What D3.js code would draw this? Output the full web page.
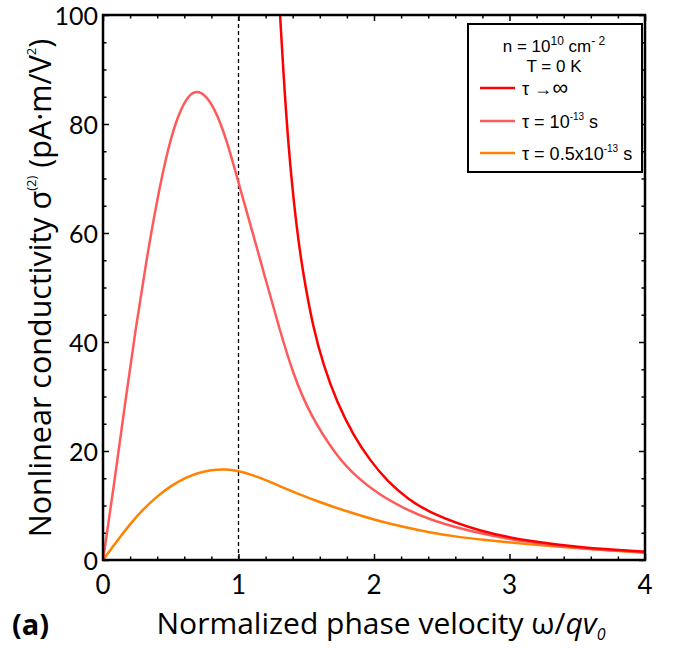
<!DOCTYPE html>
<html>
<head>
<meta charset="utf-8">
<script src="https://cdn.jsdelivr.net/npm/d3@7"></script>
<style>
  body { margin: 0; background: #fff; }
  text { font-family: Lato, "Open Sans", sans-serif; }
  .title { font-family: "Open Sans", Lato, sans-serif; }
  .legend text { font-family: "Liberation Sans", Arial, sans-serif; }
</style>
</head>
<body>
<svg class="chart" width="673" height="648"></svg>
<script>
"use strict";

// tick values
let xMajor = [0, 1, 2, 3, 4];
let yMajor = [0, 20, 40, 60, 80, 100];

// tau -> infinity
let infX = [1.29, 1.306, 1.343, 1.38, 1.429, 1.478, 1.552, 1.626, 1.725, 1.847, 1.97, 2.1, 2.25, 2.413, 2.78, 3.15, 3.52, 4.0];
let infY = [108, 100, 84.7, 72.5, 60.9, 52.3, 42.5, 35.8, 29.0, 22.9, 18.3, 14.4, 11.2, 8.6, 5.2, 3.4, 2.3, 1.5];

// tau = 1e-13 s
let t1X = [0, 0.08, 0.16, 0.24, 0.32, 0.40, 0.48, 0.56, 0.63, 0.69, 0.75, 0.82, 0.91, 1.0, 1.1, 1.2, 1.3, 1.4, 1.528, 1.725, 1.88, 2.044, 2.221, 2.413, 2.78, 3.15, 3.52, 4.0];
let t1Y = [0, 13.5, 28.3, 42.3, 55.0, 66.2, 75.7, 82.1, 85.25, 86.1, 85.45, 83.1, 77.4, 69.2, 60.5, 51.5, 42.6, 34.3, 26.6, 19.0, 15.0, 11.9, 9.5, 7.3, 4.8, 3.2, 2.1, 1.45];

// tau = 0.5e-13 s
let t2X = [0, 0.1, 0.2, 0.3, 0.4, 0.5, 0.6, 0.7, 0.8, 0.9, 1.0, 1.1, 1.2, 1.3, 1.424, 1.6, 1.8, 2.0, 2.2, 2.4, 2.6, 2.8, 3.15, 3.52, 4.0];
let t2Y = [0, 3.4, 6.6, 9.4, 11.7, 13.6, 15.0, 16.0, 16.55, 16.7, 16.35, 15.6, 14.7, 13.6, 12.3, 10.6, 8.9, 7.4, 6.15, 5.1, 4.3, 3.7, 2.85, 2.1, 1.35];

let seriesColors = ['#ff0000', '#ff5a5a', '#ff8200'];

let svg = d3.select('.chart');

let m = { left: 103, right: 645, top: 15, bottom: 560 };

let x = d3.scaleLinear().domain([0, 4]).range([m.left, m.right]);
let y = d3.scaleLinear().domain([0, 100]).range([m.bottom, m.top]);

let xMinor = d3.range(0, 4.001, 0.2).filter(v => Math.abs(v - Math.round(v)) > 1e-6);
let yMinor = d3.range(0, 100.001, 5).filter(v => v % 20 !== 0);

// inward ticks on all four sides
let addTicks = (axisFn, scale, vals, size, tx, ty) => {
  let g = svg.append('g')
    .attr('transform', 'translate(' + tx + ',' + ty + ')')
    .call(axisFn(scale).tickValues(vals).tickSize(size).tickFormat(''));
  g.select('.domain').remove();
  g.selectAll('line').attr('stroke', '#000').attr('stroke-width', 1.5);
  return g;
};

addTicks(d3.axisBottom, x, xMajor, -6, 0, m.bottom);
addTicks(d3.axisBottom, x, xMinor, -3.5, 0, m.bottom);
addTicks(d3.axisTop, x, xMajor, -6, 0, m.top);
addTicks(d3.axisTop, x, xMinor, -3.5, 0, m.top);
addTicks(d3.axisLeft, y, yMajor, -6, m.left, 0);
addTicks(d3.axisLeft, y, yMinor, -3.5, m.left, 0);
addTicks(d3.axisRight, y, yMajor, -6, m.right, 0);
addTicks(d3.axisRight, y, yMinor, -3.5, m.right, 0);

// tick labels
svg.append('g').selectAll('text')
  .data(xMajor)
  .enter()
  .append('text')
  .attr('x', d => x(d))
  .attr('y', 594)
  .attr('text-anchor', 'middle')
  .attr('font-size', 26)
  .text(d => d);

svg.append('g').selectAll('text')
  .data(yMajor)
  .enter()
  .append('text')
  .attr('x', m.left - 5)
  .attr('y', d => y(d) + 10)
  .attr('text-anchor', 'end')
  .attr('font-size', 25)
  .text(d => d);

// dashed line at omega = q v0
svg.append('line')
  .attr('x1', x(1)).attr('x2', x(1))
  .attr('y1', y(0)).attr('y2', y(100))
  .attr('stroke', '#000')
  .attr('stroke-width', 1.3)
  .attr('stroke-dasharray', '4,3');

svg.append('clipPath')
  .attr('id', 'plotclip')
  .append('rect')
  .attr('x', m.left).attr('y', m.top)
  .attr('width', m.right - m.left).attr('height', m.bottom - m.top);

let line = d3.line()
  .x(d => x(d[0]))
  .y(d => y(d[1]))
  .curve(d3.curveBasis);

let series = [d3.zip(infX, infY), d3.zip(t1X, t1Y), d3.zip(t2X, t2Y)];

svg.append('g')
  .attr('clip-path', 'url(#plotclip)')
  .selectAll('path')
  .data(series.slice().reverse())
  .enter()
  .append('path')
  .attr('d', line)
  .attr('fill', 'none')
  .attr('stroke', (d, i) => seriesColors[2 - i])
  .attr('stroke-width', 2.5);

// frame
svg.append('rect')
  .attr('x', m.left).attr('y', m.top)
  .attr('width', m.right - m.left).attr('height', m.bottom - m.top)
  .attr('fill', 'none')
  .attr('stroke', '#000')
  .attr('stroke-width', 2.5);

// axis titles
let xt = svg.append('text')
  .attr('class', 'title')
  .attr('x', 381)
  .attr('y', 634)
  .attr('text-anchor', 'middle')
  .attr('font-size', 30);
xt.append('tspan').text('Normalized phase velocity ω/');
xt.append('tspan').attr('font-style', 'italic').text('qv');
xt.append('tspan').attr('font-style', 'italic').attr('font-size', 16).attr('dy', 6).text('0');

let yt = svg.append('text')
  .attr('class', 'title')
  .attr('transform', 'translate(51,288) rotate(-90)')
  .attr('text-anchor', 'middle')
  .attr('font-size', 30.5);
yt.append('tspan').text('Nonlinear conductivity σ');
yt.append('tspan').attr('font-size', 13).attr('dy', -15).text('(2)');
yt.append('tspan').attr('dy', 15).text(' (pA·m/V');
yt.append('tspan').attr('font-size', 13).attr('dy', -15).text('2');
yt.append('tspan').attr('dy', 15).text(')');

svg.append('text')
  .attr('class', 'title')
  .attr('x', 12)
  .attr('y', 635)
  .attr('font-size', 29)
  .attr('font-weight', 'bold')
  .text('(a)');

// legend
let legend = svg.append('g').attr('class', 'legend');

legend.append('rect')
  .attr('x', 468).attr('y', 24)
  .attr('width', 174).attr('height', 148)
  .attr('fill', '#fff')
  .attr('stroke', '#000')
  .attr('stroke-width', 2);

let n = legend.append('text').attr('x', 554).attr('y', 52).attr('text-anchor', 'middle').attr('font-size', 17);
n.append('tspan').text('n = 10');
n.append('tspan').attr('font-size', 12).attr('dy', -7).text('10');
n.append('tspan').attr('dy', 7).text(' cm');
n.append('tspan').attr('font-size', 12).attr('dy', -7).text('- 2');

legend.append('text').attr('x', 554).attr('y', 72).attr('text-anchor', 'middle').attr('font-size', 17).text('T = 0 K');

let legendRows = [88, 121, 153];

legendRows.forEach((ry, i) => {
  legend.append('line')
    .attr('x1', 480).attr('x2', 515)
    .attr('y1', ry).attr('y2', ry)
    .attr('stroke', seriesColors[i])
    .attr('stroke-width', 2.5);
});

let l1 = legend.append('text').attr('x', 522).attr('y', legendRows[0] + 7).attr('font-size', 18);
l1.append('tspan').text('τ →');
l1.append('tspan').attr('font-size', 22).attr('font-style', 'italic').text('∞');

let l2 = legend.append('text').attr('x', 522).attr('y', legendRows[1] + 7).attr('font-size', 18);
l2.append('tspan').text('τ = 10');
l2.append('tspan').attr('font-size', 10).attr('dy', -8).text('-13');
l2.append('tspan').attr('dy', 8).text(' s');

let l3 = legend.append('text').attr('x', 522).attr('y', legendRows[2] + 7).attr('font-size', 18);
l3.append('tspan').text('τ = 0.5x10');
l3.append('tspan').attr('font-size', 10).attr('dy', -8).text('-13');
l3.append('tspan').attr('dy', 8).text(' s');
</script>
</body>
</html>
